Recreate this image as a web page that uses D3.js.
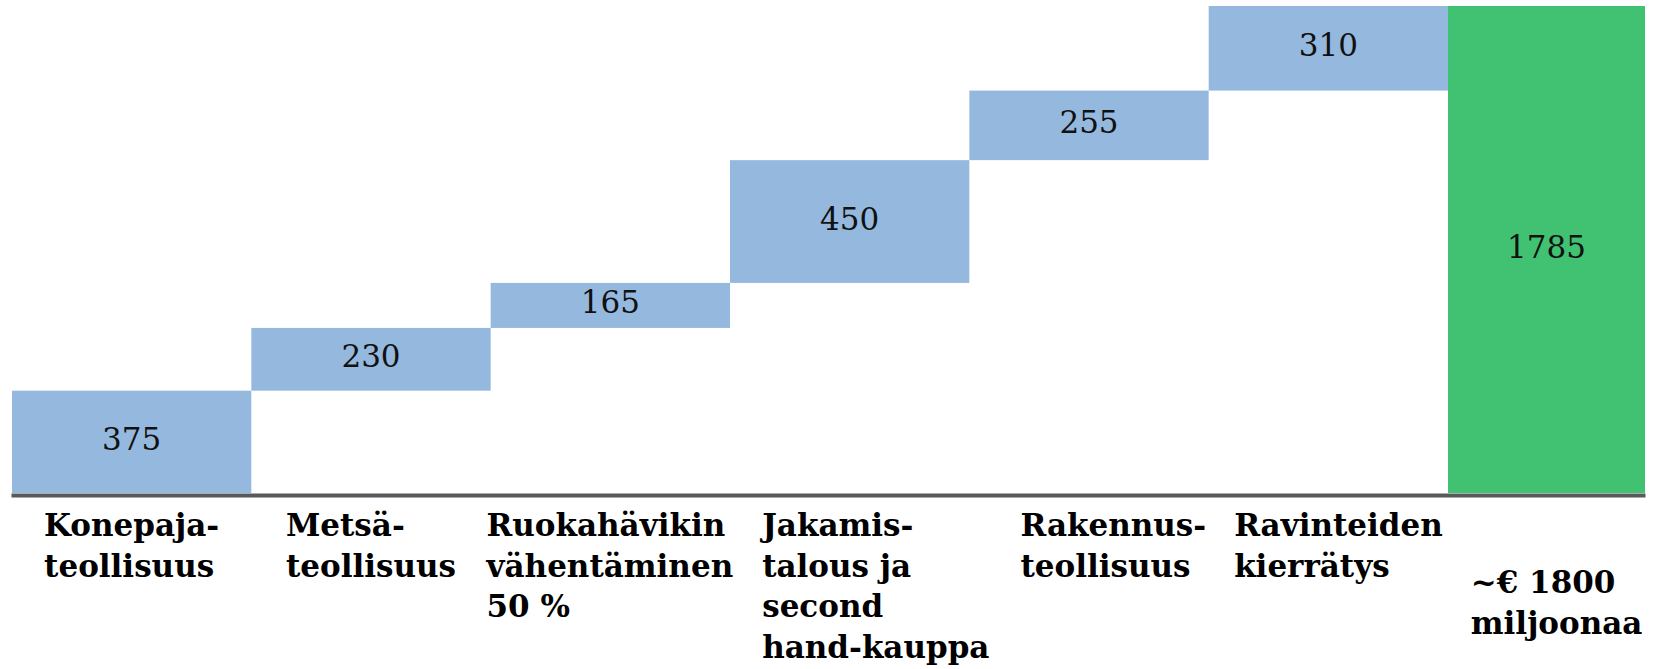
<!DOCTYPE html>
<html>
<head>
<meta charset="utf-8">
<script src="https://cdn.jsdelivr.net/npm/d3@7"></script>
<style>
  html, body { margin: 0; padding: 0; background: #fff; }
  svg { display: block; }
</style>
</head>
<body>
<svg id="chart" width="1661" height="669"></svg>
<script>
// ---- Data ----
const categories = ["Konepajateollisuus", "Metsäteollisuus", "Ruokahävikin vähentäminen 50 %",
  "Jakamistalous ja second hand-kauppa", "Rakennusteollisuus", "Ravinteiden kierrätys"];
const stepValues = [375, 230, 165, 450, 255, 310];
const categoryLines = [
  ["Konepaja-", "teollisuus"],
  ["Metsä-", "teollisuus"],
  ["Ruokahävikin", "vähentäminen", "50 %"],
  ["Jakamis-", "talous ja", "second", "hand-kauppa"],
  ["Rakennus-", "teollisuus"],
  ["Ravinteiden", "kierrätys"]
];
const totalName = "Yhteensä";
const totalValue = 1785;
const totalLines = ["~€ 1800", "miljoonaa"];

// ---- Layout ----
const left = 12, stepsRight = 1448, right = 1645;
const baseY = 493, topY = 6;
const blue = "#95b9de", green = "#41c272", axisColor = "#58595b";
const valueFont = "'DejaVu Serif', Georgia, serif";
const labelFont = "'DejaVu Serif', Georgia, serif";

const svg = d3.select("#chart");

const x = d3.scaleBand().domain(categories).range([left, stepsRight]).paddingInner(0).paddingOuter(0);
const xTotal = d3.scaleBand().domain([totalName]).range([stepsRight, right]).padding(0);
const y = d3.scaleLinear().domain([0, totalValue]).range([baseY, topY]);

// cumulative bases
let acc = 0;
const steps = stepValues.map((v, i) => {
  const start = acc; acc += v;
  return { name: categories[i], value: v, start, end: acc, lines: categoryLines[i] };
});

// step bars
svg.append("g").selectAll("rect").data(steps).join("rect")
  .attr("x", d => x(d.name))
  .attr("width", x.bandwidth())
  .attr("y", d => y(d.end))
  .attr("height", d => y(d.start) - y(d.end))
  .attr("fill", blue);

// total bar
svg.append("rect")
  .attr("x", xTotal(totalName))
  .attr("width", xTotal.bandwidth())
  .attr("y", y(totalValue))
  .attr("height", y(0) - y(totalValue))
  .attr("fill", green);

// value labels
svg.append("g").selectAll("text").data(steps).join("text")
  .attr("x", d => x(d.name) + x.bandwidth() / 2)
  .attr("y", d => (y(d.start) + y(d.end)) / 2)
  .attr("dy", "0.26em")
  .attr("text-anchor", "middle")
  .attr("font-family", valueFont)
  .attr("font-size", 31)
  .attr("fill", "#111")
  .text(d => d.value);

svg.append("text")
  .attr("x", xTotal(totalName) + xTotal.bandwidth() / 2)
  .attr("y", (y(0) + y(totalValue)) / 2)
  .attr("dy", "0.26em")
  .attr("text-anchor", "middle")
  .attr("font-family", valueFont)
  .attr("font-size", 31)
  .attr("fill", "#111")
  .text(totalValue);

// axis baseline via d3 axis (no ticks)
const axisG = svg.append("g").attr("transform", `translate(0,${baseY + 2})`)
  .call(d3.axisBottom(d3.scaleLinear().range([left - 1, right])).ticks(0).tickSizeOuter(0));
axisG.select(".domain").attr("stroke", axisColor).attr("stroke-width", 4);
axisG.selectAll(".tick").remove();

// category labels (left-aligned block, centered on bar, pushed right if overlapping)
const lineH = 40.5;
const firstBaseline = 536;
const minGap = 28;
let prevRight = -Infinity;
function drawLabel(lines, cx, baseline) {
  const t = svg.append("text")
    .attr("font-family", labelFont)
    .attr("font-weight", "bold")
    .attr("font-size", 31)
    .attr("fill", "#000");
  lines.forEach((ln, i) => {
    t.append("tspan").attr("x", 0).attr("y", baseline + i * lineH).text(ln);
  });
  const w = t.node().getBBox().width;
  const x0 = Math.max(cx - w / 2, prevRight + minGap);
  prevRight = x0 + w;
  t.attr("transform", `translate(${x0},0)`);
}
steps.forEach(d => drawLabel(d.lines, x(d.name) + x.bandwidth() / 2, firstBaseline));
drawLabel(totalLines, xTotal(totalName) + xTotal.bandwidth() / 2 + 10, firstBaseline + 57);
</script>
</body>
</html>
